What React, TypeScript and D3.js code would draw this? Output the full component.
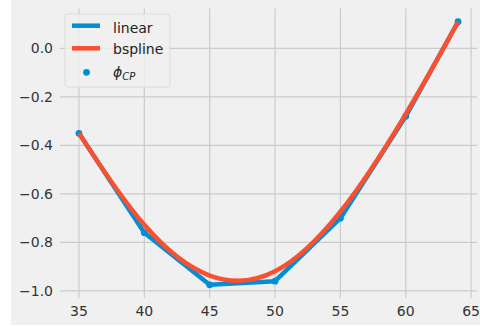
import * as d3 from 'd3'

// control points / linear interpolation
const xs = [35, 40, 45, 50, 55, 60, 64]
const phiCP = [-0.35, -0.76, -0.975, -0.96, -0.7, -0.28, 0.11]
const xTicks = [35, 40, 45, 50, 55, 60, 65]
const yTicks = [0.0, -0.2, -0.4, -0.6, -0.8, -1.0]

const BLUE = '#008fd5'
const RED = '#fc4f30'
const FONT = 'DejaVu Sans, sans-serif'

export default function App() {
  const width = 480
  const height = 327
  const plot = { left: 60, right: 477, top: 8.6, bottom: 298 }

  const xMin = d3.min(xs)!, xMax = d3.max(xs)!
  const yMin = d3.min(phiCP)!, yMax = d3.max(phiCP)!
  const xPad = (xMax - xMin) * 0.05
  const yPad = (yMax - yMin) * 0.05

  const x = d3.scaleLinear().domain([xMin - xPad, xMax + xPad]).range([plot.left, plot.right])
  const y = d3.scaleLinear().domain([yMin - yPad, yMax + yPad]).range([plot.bottom, plot.top])

  const pts: [number, number][] = xs.map((v, i) => [v, phiCP[i]])
  const linear = d3.line<[number, number]>().x(d => x(d[0])).y(d => y(d[1]))
  const bspline = d3.line<[number, number]>().x(d => x(d[0])).y(d => y(d[1])).curve(d3.curveBasis)

  const fmt = (v: number) => v.toFixed(1).replace('-', '\u2212')

  return (
    <div style={{ position: 'fixed', left: 0, top: 0 }}>
      <svg width={width} height={height} style={{ display: 'block', fontFamily: FONT }}>
        <rect x={0} y={0} width={width} height={height} fill="#ffffff" />
        <rect x={11} y={0} width={width - 11} height={325} fill="#f0f0f0" />

        {/* grid */}
        {xTicks.map(t => (
          <line key={'gx' + t} x1={x(t)} x2={x(t)} y1={plot.top} y2={plot.bottom}
            stroke="#cbcbcb" strokeWidth={1.2} />
        ))}
        {yTicks.map(t => (
          <line key={'gy' + t} x1={plot.left} x2={plot.right} y1={y(t)} y2={y(t)}
            stroke="#cbcbcb" strokeWidth={1.2} />
        ))}

        {/* tick labels */}
        {xTicks.map(t => (
          <text key={'tx' + t} x={x(t)} y={316} textAnchor="middle" fontSize={14} fill="#333">{t}</text>
        ))}
        {yTicks.map(t => (
          <text key={'ty' + t} x={53} y={y(t) + 5} textAnchor="end" fontSize={14} fill="#333">{fmt(t)}</text>
        ))}

        {/* series */}
        <path d={linear(pts)!} fill="none" stroke={BLUE} strokeWidth={4.5} strokeLinejoin="round" />
        {pts.map((d, i) => (
          <circle key={'p' + i} cx={x(d[0])} cy={y(d[1])} r={3.4} fill={BLUE} />
        ))}
        <path d={bspline(pts)!} fill="none" stroke={RED} strokeWidth={4.5} strokeLinejoin="round" />

        {/* legend */}
        <g>
          <rect x={65} y={14} width={105} height={73} rx={3} fill="#f0f0f0" fillOpacity={0.8}
            stroke="#dcdcdc" strokeWidth={1} />
          <line x1={72} x2={100} y1={25.7} y2={25.7} stroke={BLUE} strokeWidth={4.5} />
          <text x={113} y={32.5} fontSize={14} fill="#222">linear</text>
          <line x1={72} x2={100} y1={48.3} y2={48.3} stroke={RED} strokeWidth={4.5} />
          <text x={113} y={53.5} fontSize={14} fill="#222">bspline</text>
          <circle cx={86.5} cy={72.3} r={3.4} fill={BLUE} />
          <text x={113} y={77} fontSize={14} fill="#222">
            <tspan fontStyle="italic">{'\u03d5'}</tspan>
            <tspan fontStyle="italic" fontSize={10} dy={3}>CP</tspan>
          </text>
        </g>
      </svg>
    </div>
  )
}
